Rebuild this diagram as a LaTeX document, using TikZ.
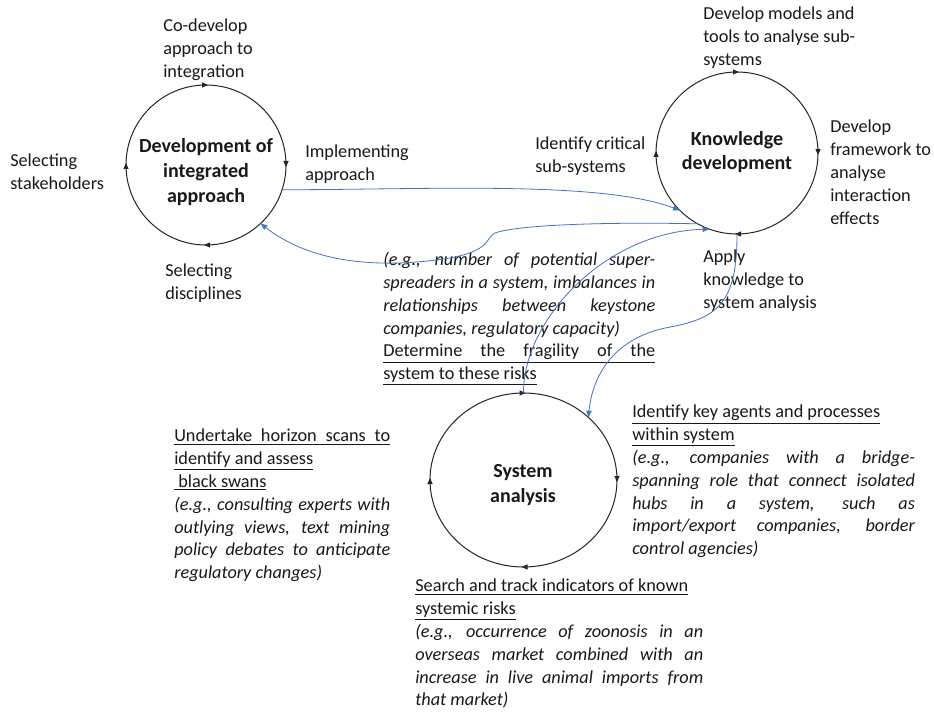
\documentclass[tikz,border=0pt]{standalone}
\usepackage{fontspec}
\setmainfont{Carlito}
\usetikzlibrary{arrows.meta,shapes.geometric}
\definecolor{lnblue}{RGB}{68,114,196}
\definecolor{txt}{RGB}{25,25,25}
\newcommand\jst[2]{\makebox[#1][s]{#2}}
\begin{document}
\begin{tikzpicture}[x=0.75pt,y=-0.75pt,
  cyc/.style={circle, draw=black!85, line width=0.75pt, inner sep=0pt, outer sep=0pt},
  ell/.style={ellipse, draw=black!85, line width=0.75pt, inner sep=0pt, outer sep=0pt},
  title/.style={font=\fontsize{15}{18.5}\selectfont\bfseries, align=center, inner sep=0pt, text=txt},
  lbl/.style={anchor=north west, inner sep=0pt, align=left, font=\fontsize{13.7}{17.1}\selectfont, text=txt},
  flow/.style={draw=lnblue, line width=0.6pt, -{Triangle[length=5pt,width=4pt]}},
  turn/.style={draw=black!85, line width=0.75pt, -{Triangle[length=4.5pt,width=3.8pt]}}]
\fill[white] (0,0) rectangle (934,712);
\useasboundingbox (0,0) rectangle (934,712);

% cycles
\node[cyc, minimum size=120pt] (L) at (206,165) {};
\node[cyc, minimum size=121.5pt] (K) at (737,153) {};
\node[ell, minimum width=140.25pt, minimum height=130.5pt] (S) at (523.5,480) {};
\foreach \n in {L,K,S}{
  \draw[turn] ([xshift=-2pt]\n.north) -- ([xshift=1.5pt]\n.north);
  \draw[turn] ([yshift=2pt]\n.east) -- ([yshift=-1.5pt]\n.east);
  \draw[turn] ([xshift=2pt]\n.south) -- ([xshift=-1.5pt]\n.south);
  \draw[turn] ([yshift=-2pt]\n.west) -- ([yshift=1.5pt]\n.west);
}
\node[title] (Lt) at (206,172) {Development of\\integrated\\approach};
\node[title] (Kt) at (737,152) {Knowledge\\development};
\node[title] (St) at (523,485) {System\\analysis};

% labels
\node[lbl] (codev) at (163,19) {Co-develop\\approach to\\integration};
\node[lbl] (stake) at (10,154) {Selecting\\stakeholders};
\node[lbl] (impl) at (305,145) {Implementing\\approach};
\node[lbl] (disc) at (165,264) {Selecting\\disciplines};
\node[lbl] (models) at (703,7) {Develop models and\\tools to analyse sub-\\systems};
\node[lbl] (crit) at (535,137) {Identify critical\\sub-systems};
\node[lbl] (frame) at (830,120) {Develop\\framework to\\analyse\\interaction\\effects};
\node[lbl] (apply) at (703,250) {Apply\\knowledge to\\system analysis};

\node[lbl] (frag) at (383,252) {\textit{\jst{204pt}{(e.g., number of potential super-}}\\
\textit{\jst{204pt}{spreaders in a system, imbalances in}}\\
\textit{\jst{204pt}{relationships between keystone}}\\
\textit{companies, regulatory capacity)}\\
\underline{\jst{204pt}{Determine the fragility of the}}\\
\underline{system to these risks}};

\node[lbl] (swan) at (174,429) {\underline{\jst{162pt}{Undertake horizon scans to}}\\
\underline{identify and assess}\\
\underline{\ black swans}\\
\textit{\jst{162pt}{(e.g., consulting experts with}}\\
\textit{\jst{162pt}{outlying views, text mining}}\\
\textit{\jst{162pt}{policy debates to anticipate}}\\
\textit{regulatory changes)}};

\node[lbl] (agents) at (632,405) {\underline{Identify key agents and processes}\\
\underline{within system}\\
\textit{\jst{212pt}{(e.g., companies with a bridge-}}\\
\textit{\jst{212pt}{spanning role that connect isolated}}\\
\textit{\jst{212pt}{hubs in a system, such as}}\\
\textit{\jst{212pt}{import/export companies, border}}\\
\textit{control agencies)}};

\node[lbl] (track) at (415,579) {\underline{Search and track indicators of known}\\
\underline{systemic risks}\\
\textit{\jst{216pt}{(e.g., occurrence of zoonosis in an}}\\
\textit{\jst{216pt}{overseas market combined with an}}\\
\textit{\jst{216pt}{increase in live animal imports from}}\\
\textit{that market)}};

% connectors
\draw[flow] (L.-18) .. controls (420,190) and (600,180) .. (K.-135);
\draw[flow] (K.241) .. controls (620,222) and (520,224) .. (495,233)
  .. controls (485,238) and (492,250) .. (450,258)
  .. controls (400,266) and (320,270) .. (L.-47);
\draw[flow] (S.north) .. controls (523,320) and (605,232) .. (K.250);
\draw[flow] (K.south) .. controls (737,300) and (720,318) .. (670,327)
  .. controls (610,338) and (592,380) .. (S.44);
\end{tikzpicture}
\end{document}
